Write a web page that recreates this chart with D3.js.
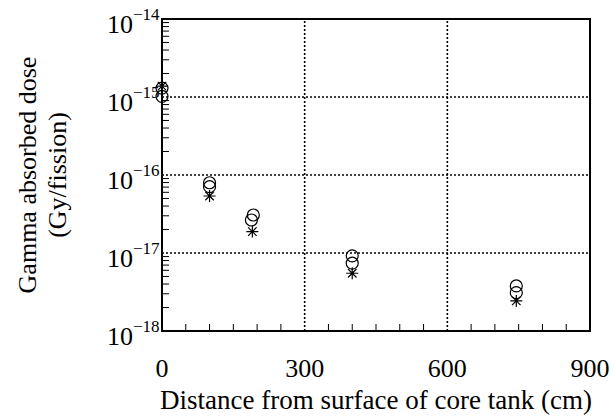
<!DOCTYPE html>
<html>
<head>
<meta charset="utf-8">
<script src="https://cdn.jsdelivr.net/npm/d3@7"></script>
<style>
  body { margin: 0; background: #fff; }
  text { font-family: "Liberation Serif", "Times New Roman", serif; fill: #000; }
</style>
</head>
<body>
<div id="chart"></div>
<script>
// Data (distance in cm, dose in Gy/fission)
const calcA = [[0, 1.30e-15], [100, 7.96e-17], [192, 3.07e-17], [400, 9.2e-18], [745, 3.78e-18]];
const calcB = [[0, 1.02e-15], [100, 7.08e-17], [188, 2.65e-17], [400, 7.4e-18], [745, 3.10e-18]];
const measured = [[0, 1.38e-15], [100, 5.38e-17], [190, 1.88e-17], [400, 5.5e-18], [745, 2.43e-18]];
const xTicks = [0, 300, 600, 900];
const yDecades = [-18, -17, -16, -15, -14];

const width = 611, height = 417;
const margin = { top: 19, right: 21, bottom: 86, left: 162 };
const fontSize = 26;

const svg = d3.select('#chart')
	.append('svg')
	.attr('width', width)
	.attr('height', height);

const x = d3.scaleLinear().domain([0, 900]).range([margin.left, width - margin.right]);
const y = d3.scaleLog().domain([1e-18, 1e-14]).range([height - margin.bottom, margin.top]);

// Dotted grid at major ticks
const grid = svg.append('g').attr('stroke', '#000').attr('stroke-width', 1.6).attr('stroke-dasharray', '2,2');
grid.selectAll('line.gx')
	.data(xTicks.slice(1, -1))
	.enter().append('line')
	.attr('x1', d => x(d)).attr('x2', d => x(d))
	.attr('y1', y(1e-18)).attr('y2', y(1e-14));
grid.selectAll('line.gy')
	.data(yDecades.slice(1, -1))
	.enter().append('line')
	.attr('y1', d => y(Math.pow(10, d))).attr('y2', d => y(Math.pow(10, d)))
	.attr('x1', x(0)).attr('x2', x(900));

// Minor ticks (inside the frame)
const ticks = svg.append('g').attr('stroke', '#000').attr('stroke-width', 1);
ticks.selectAll('line.tx')
	.data(d3.range(50, 900, 50).filter(v => v % 300 !== 0))
	.enter().append('line')
	.attr('x1', d => x(d)).attr('x2', d => x(d))
	.attr('y1', y(1e-18)).attr('y2', y(1e-18) - 7);
const minorY = [];
yDecades.slice(0, -1).forEach(e => {
	for (let m = 2; m <= 9; m++) minorY.push(m * Math.pow(10, e));
});
ticks.selectAll('line.ty')
	.data(minorY)
	.enter().append('line')
	.attr('y1', d => y(d)).attr('y2', d => y(d))
	.attr('x1', x(0)).attr('x2', x(0) + 7);

// Frame
svg.append('rect')
	.attr('x', x(0)).attr('y', y(1e-14))
	.attr('width', x(900) - x(0)).attr('height', y(1e-18) - y(1e-14))
	.attr('fill', 'none').attr('stroke', '#000').attr('stroke-width', 2);

// X tick labels
svg.selectAll('text.xl')
	.data(xTicks)
	.enter().append('text')
	.attr('x', d => x(d)).attr('y', height - margin.bottom + 46)
	.attr('text-anchor', 'middle')
	.attr('font-size', fontSize)
	.text(d => d);

// Y tick labels: 10 with superscript exponent
const yl = svg.selectAll('text.yl')
	.data(yDecades)
	.enter().append('text')
	.attr('x', 107).attr('y', d => y(Math.pow(10, d)) + 14)
	.attr('font-size', fontSize);
yl.append('tspan').text('10');
yl.append('tspan').attr('dy', -13).attr('font-size', 17).text(d => '\u2212' + (-d));

// Axis titles
svg.append('text')
	.attr('x', (x(0) + x(900)) / 2).attr('y', 409)
	.attr('text-anchor', 'middle').attr('font-size', 27)
	.text('Distance from surface of core tank (cm)');
svg.append('text')
	.attr('transform', `translate(36, ${(y(1e-14) + y(1e-18)) / 2}) rotate(-90)`)
	.attr('text-anchor', 'middle').attr('font-size', fontSize)
	.text('Gamma absorbed dose');
svg.append('text')
	.attr('transform', `translate(66, ${(y(1e-14) + y(1e-18)) / 2}) rotate(-90)`)
	.attr('text-anchor', 'middle').attr('font-size', fontSize)
	.text('(Gy/fission)');

// Markers
const marks = svg.append('g').attr('fill', 'none').attr('stroke', '#000').attr('stroke-width', 1.2);
[calcA, calcB].forEach(series => {
	marks.selectAll(null)
		.data(series)
		.enter().append('circle')
		.attr('cx', d => x(d[0])).attr('cy', d => y(d[1]))
		.attr('r', 6);
});
const star = d3.symbol().type({
	draw(ctx, size) {
		const r = Math.sqrt(size) / 2;
		for (let k = 0; k < 4; k++) {
			const a = k * Math.PI / 4;
			ctx.moveTo(-r * Math.cos(a), -r * Math.sin(a));
			ctx.lineTo(r * Math.cos(a), r * Math.sin(a));
		}
	}
}).size(144);
marks.selectAll('path.star')
	.data(measured)
	.enter().append('path')
	.attr('class', 'star')
	.attr('transform', d => `translate(${x(d[0])}, ${y(d[1])})`)
	.attr('d', star);
</script>
</body>
</html>
